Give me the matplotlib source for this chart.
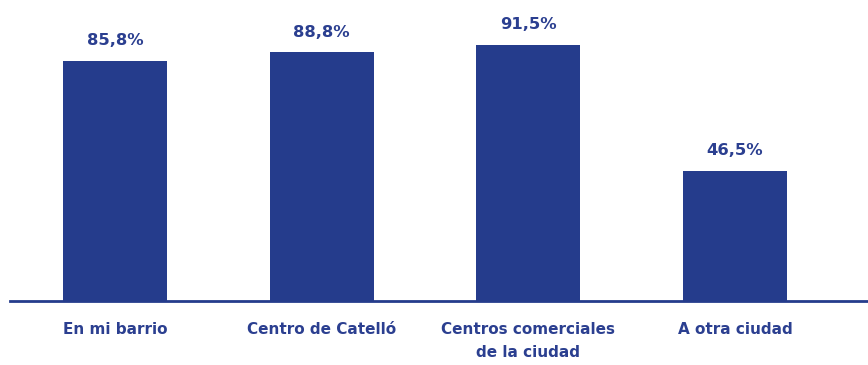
import matplotlib.pyplot as plt

categories = ["En mi barrio", "Centro de Catelló", "Centros comerciales\nde la ciudad", "A otra ciudad"]
values = [85.8, 88.8, 91.5, 46.5]
labels = ["85,8%", "88,8%", "91,5%", "46,5%"]

blue = "#253c8c"
text_blue = "#2b3f90"

fig = plt.figure(figsize=(8.68, 3.65), dpi=100)
ax = fig.add_axes([10 / 868, 64 / 365, 858 / 868, 280 / 365])

x = range(len(values))
bars = ax.bar(x, values, width=0.503, color=blue)

for b, lab in zip(bars, labels):
    ax.annotate(lab, (b.get_x() + b.get_width() / 2, b.get_height()),
                xytext=(0, 9), textcoords="offset points", ha="center", va="bottom",
                fontsize=11.8, fontweight="bold", color=text_blue, family="DejaVu Sans")

ax.set_xlim(-0.508, 3.643)
ax.set_ylim(0, 100)
ax.set_yticks([])
ax.set_xticks(list(x))
ax.set_xticklabels(categories, fontsize=11, fontweight="bold", color=text_blue,
                   family="DejaVu Sans", linespacing=1.7, va="top")
ax.tick_params(axis="x", length=0, pad=15)
for s in ["top", "right", "left"]:
    ax.spines[s].set_visible(False)
ax.spines["bottom"].set_color(blue)
ax.spines["bottom"].set_linewidth(2)

fig.savefig("out.png", dpi=100)
